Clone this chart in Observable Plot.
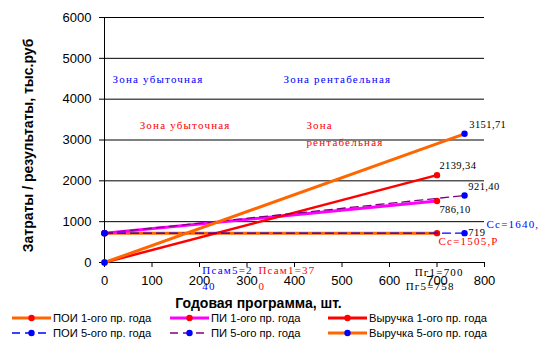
<!DOCTYPE html>
<html><head><meta charset="utf-8">
<script src="https://cdn.jsdelivr.net/npm/d3@7"></script>
<script src="https://cdn.jsdelivr.net/npm/@observablehq/plot@0.6"></script>
<style>
body{margin:0;background:#fff;width:542px;height:354px;overflow:hidden;position:relative;font-family:"Liberation Sans",Arial,sans-serif}
#chart{position:absolute;left:0;top:0}
g[font-family="Liberation Serif"] text{letter-spacing:1.2px}
g[font-family="Liberation Serif, serif"] text{letter-spacing:0.4px}
#legend{position:absolute;left:0;top:309px;width:542px;height:45px;font-size:11.2px;color:#000}
.li{position:absolute;display:flex;align-items:center;white-space:nowrap;height:14px}
.li svg{margin-right:2px}
</style></head><body>
<div id="chart"></div><div id="legend"></div>
<script>
// ---- data ----
const xTicks = [0,100,200,300,400,500,600,700,800];
const yTicks = [0,1000,2000,3000,4000,5000,6000];
const seriesNames = ["ПОИ 1-ого пр. года","ПИ 1-ого пр. года","Выручка 1-ого пр. года","ПОИ 5-ого пр. года","ПИ 5-ого пр. года","Выручка 5-ого пр. года"];
const seriesX = [[0,700],[0,700],[0,700],[0,758],[0,758],[0,758]];
const seriesY = [[719,719],[719,1505.1],[0,2139.34],[719,719],[719,1640.4],[0,3151.71]];
// zone & point annotations (letter-spaced serif)
const zoneText = ["Зона убыточная","Зона рентабельная","Зона убыточная","Зона","рентабельная","Сс=1640,","Сс=1505,Р","Псам5=2","40","Псам1=37","0","Пг1=700","Пг5=758"];
const zoneX = [17,377,74,425,425,804,703,206,206,324,324,653,634];
const zoneY = [4480,4480,3355,3355,2940,931,514,-200,-588,-200,-588,-240,-588];
const zoneGroup = ["b","b","r","r","r","b","r","b","b","r","r","k","k"];
// value annotations
const valText = ["3151,71","2139,34","921,40","786,10","719"];
const valX = [768,705,766,705,766];
const valY = [3380,2376,1861,1298,735];

// ---- styles ----
const lineColor = ["#FF6600","#FF00FF","#FF0000","#0000FF","#800080","#FF6600"];
const lineWidth = [3,3,2.5,1.3,1.3,3];
const lineDash = [null,null,null,"8,5","8,5",null];
const dotColor = ["#FF0000","#FF0000","#FF0000","#0000FF","#0000FF","#0000FF"];
const groupColor = {k:"#000",b:"#0000FF",r:"#FF0000"};

const seriesMarks = [];
seriesNames.forEach((name,i)=>{
  const pts = seriesX[i].map((x,j)=>({x, y: seriesY[i][j]}));
  seriesMarks.push(Plot.line(pts,{x:"x",y:"y",stroke:lineColor[i],strokeWidth:lineWidth[i],strokeDasharray:lineDash[i]}));
  seriesMarks.push(Plot.dot(pts,{x:"x",y:"y",r:3.2,fill:dotColor[i],stroke:null}));
});
const zones = zoneText.map((t,i)=>({t,x:zoneX[i],y:zoneY[i],g:zoneGroup[i]}));
const vals = valText.map((t,i)=>({t,x:valX[i],y:valY[i]}));

const chart = Plot.plot({
  width:542,height:310,marginLeft:104,marginRight:58,marginTop:17,marginBottom:48,
  style:{fontFamily:"'Liberation Sans', Arial, sans-serif",fontSize:"13px",background:"#fff",color:"#000",overflow:"visible"},
  x:{domain:[0,800]}, y:{domain:[0,6000]},
  marks:[
    Plot.ruleY(yTicks,{stroke:"#000",strokeWidth:1}),
    Plot.ruleX([0],{stroke:"#000"}),
    Plot.axisY({ticks:yTicks,tickSize:5,tickPadding:8,label:null,tickFormat:d=>String(d),fontSize:13}),
    Plot.axisX({ticks:xTicks,tickSize:5,tickPadding:8,label:null,tickFormat:d=>String(d),fontSize:13}),
    ...seriesMarks,
    Plot.text(zones,{x:"x",y:"y",text:"t",fill:d=>groupColor[d.g],textAnchor:"start",lineAnchor:"middle",fontFamily:"Liberation Serif",fontSize:11}),
    Plot.text(vals,{x:"x",y:"y",text:"t",fill:"#000",textAnchor:"start",lineAnchor:"middle",fontFamily:"Liberation Serif, serif",fontSize:10.5}),
    Plot.text(["Затраты / результаты, тыс.руб"],{text:d=>d,frameAnchor:"left",rotate:-90,dx:-75.5,dy:5.5,fontWeight:"bold",fontSize:14,textAnchor:"middle",lineAnchor:"middle"}),
    Plot.text(["Годовая программа, шт."],{text:d=>d,frameAnchor:"bottom",dx:-36,dy:41,fontWeight:"bold",fontSize:14,textAnchor:"middle",lineAnchor:"middle"})
  ]
});
document.getElementById("chart").appendChild(chart);

// ---- legend ----
const legPos = [[12,9],[170,9],[328,9],[12,24],[170,24],[328,24]];
const leg = document.getElementById("legend");
seriesNames.forEach((name,i)=>{
  const d = document.createElement("div");
  d.className="li";
  d.style.left = legPos[i][0]+"px";
  d.style.top = (legPos[i][1]-7)+"px";
  const dash = lineDash[i] ? `stroke-dasharray="8,5"` : "";
  const sw = lineDash[i] ? 1.3 : 3;
  d.innerHTML = `<svg width="39" height="12"><line x1="0" x2="39" y1="6" y2="6" stroke="${lineColor[i]}" stroke-width="${sw}" ${dash}/><circle cx="19.5" cy="6" r="3.2" fill="${dotColor[i]}"/></svg><span>${name}</span>`;
  leg.appendChild(d);
});
</script>
</body></html>
